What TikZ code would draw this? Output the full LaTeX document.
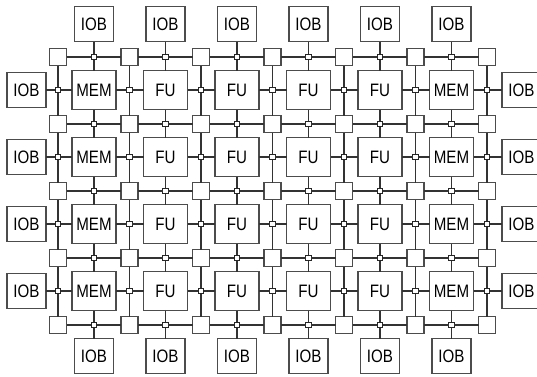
\documentclass[tikz,border=0pt]{standalone}
\usepackage{fontspec}
\setmainfont{Liberation Sans}[FakeStretch=0.84]
\begin{document}
\begin{tikzpicture}[x=1pt,y=-1pt,
  every node/.style={inner sep=0pt, outer sep=0pt},
  blk/.style={draw=black!70, line width=1.3pt, fill=white, minimum width=44pt, minimum height=39pt, font=\fontsize{18}{18}\selectfont},
  iob/.style={draw=black!70, line width=1.3pt, fill=white, minimum width=39pt, minimum height=35pt, font=\fontsize{18}{18}\selectfont},
  sw/.style={draw=black!70, line width=1.3pt, fill=white, minimum size=17pt},
  jn/.style={draw=black!85, line width=1pt, fill=white, minimum size=5.5pt},
  wire/.style={draw=black!80, line width=1.2pt}]
\useasboundingbox (0,0) rectangle (537,376);
% switch boxes at channel crossings
\foreach \ii in {0,...,4}{
  \foreach \jj in {0,...,6}{
    \node[sw] (S-\ii-\jj) at ({58+71.5*\jj},{57+67*\ii}) {};
  }
}
% junctions on horizontal channels
\foreach \ii in {0,...,4}{
  \foreach \cc in {1,...,6}{
    \node[jn] (H-\ii-\cc) at ({94+71.5*(\cc-1)},{57+67*\ii}) {};
  }
}
% junctions on vertical channels
\foreach \rr in {1,...,4}{
  \foreach \jj in {0,...,6}{
    \node[jn] (V-\rr-\jj) at ({58+71.5*\jj},{90+67*(\rr-1)}) {};
  }
}
% logic blocks
\foreach \rr in {1,...,4}{
  \node[blk] (B-\rr-1) at (94,{90+67*(\rr-1)}) {MEM};
  \foreach \cc in {2,...,5}{
    \node[blk] (B-\rr-\cc) at ({94+71.5*(\cc-1)},{90+67*(\rr-1)}) {FU};
  }
  \node[blk] (B-\rr-6) at (451.5,{90+67*(\rr-1)}) {MEM};
}
% I/O blocks
\foreach \cc in {1,...,6}{
  \node[iob] (T-\cc) at ({94+71.5*(\cc-1)},24) {IOB};
  \node[iob] (D-\cc) at ({94+71.5*(\cc-1)},356) {IOB};
}
\foreach \rr in {1,...,4}{
  \node[iob] (L-\rr) at (26.5,{90+67*(\rr-1)}) {IOB};
  \node[iob] (R-\rr) at (521.5,{90+67*(\rr-1)}) {IOB};
}
% horizontal channels
\foreach \ii in {0,...,4}{
  \foreach \cc in {1,...,6}{
    \pgfmathtruncatemacro{\pc}{\cc-1}
    \draw[wire] (S-\ii-\pc) -- (H-\ii-\cc);
    \draw[wire] (H-\ii-\cc) -- (S-\ii-\cc);
  }
}
% vertical channels
\foreach \jj in {0,...,6}{
  \foreach \rr in {1,...,4}{
    \pgfmathtruncatemacro{\pr}{\rr-1}
    \draw[wire] (S-\pr-\jj) -- (V-\rr-\jj);
    \draw[wire] (V-\rr-\jj) -- (S-\rr-\jj);
  }
}
% block pins
\foreach \rr in {1,...,4}{
  \foreach \cc in {1,...,6}{
    \pgfmathtruncatemacro{\pr}{\rr-1}
    \pgfmathtruncatemacro{\pc}{\cc-1}
    \draw[wire] (B-\rr-\cc) -- (H-\pr-\cc);
    \draw[wire] (B-\rr-\cc) -- (H-\rr-\cc);
    \draw[wire] (B-\rr-\cc) -- (V-\rr-\pc);
    \draw[wire] (B-\rr-\cc) -- (V-\rr-\cc);
  }
}
% I/O pins
\foreach \cc in {1,...,6}{
  \draw[wire] (T-\cc) -- (H-0-\cc);
  \draw[wire] (D-\cc) -- (H-4-\cc);
}
\foreach \rr in {1,...,4}{
  \draw[wire] (L-\rr) -- (V-\rr-0);
  \draw[wire] (R-\rr) -- (V-\rr-6);
}
\end{tikzpicture}
\end{document}
